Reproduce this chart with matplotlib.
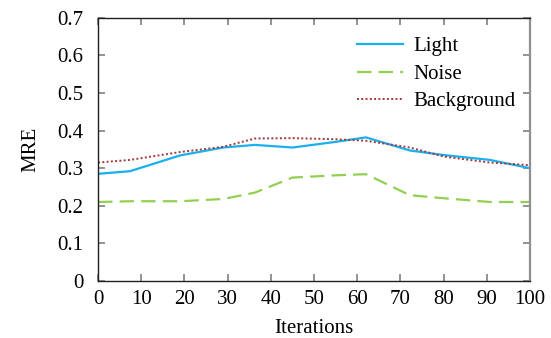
import numpy as np
import matplotlib
matplotlib.use("Agg")
import matplotlib.pyplot as plt

plt.rcParams['font.family'] = ['Liberation Serif', 'DejaVu Serif']

iters = [0, 7.4, 19, 29, 36.3, 45, 55, 62, 72.2, 80, 90.7, 100]
light = [0.285, 0.292, 0.334, 0.355, 0.362, 0.355, 0.370, 0.382, 0.347, 0.335, 0.322, 0.300]
noise = [0.210, 0.212, 0.212, 0.218, 0.235, 0.275, 0.281, 0.284, 0.228, 0.220, 0.210, 0.210]
background = [0.315, 0.322, 0.343, 0.357, 0.379, 0.380, 0.377, 0.373, 0.355, 0.331, 0.315, 0.308]

fig = plt.figure(figsize=(5.51, 3.38), dpi=100)
ax = fig.add_axes([0.178, 0.169, 0.784, 0.778])

ax.plot(iters, light, color='#1ab0ee', lw=1.6, label='Light')
ax.plot(iters, noise, color='#92d050', lw=1.6, ls=(0, (6.5, 3.2)), label='Noise')
ax.plot(iters, background, color='#a0393a', lw=1.4, ls=(0, (1, 1.2)), label='Background')

ax.set_xlim(0, 100)
ax.set_ylim(0, 0.7)
ax.set_xticks(np.arange(0, 101, 10))
ax.set_yticks(np.arange(0, 0.71, 0.1))
ax.set_yticklabels(['0', '0.1', '0.2', '0.3', '0.4', '0.5', '0.6', '0.7'])
ax.tick_params(direction='in', top=True, right=True, length=5, width=1.2,
               color='#808080', labelsize=15)
ax.tick_params(axis='x', pad=6.5)
ax.tick_params(axis='y', pad=10.5)
for s in ['left', 'bottom', 'top']:
    ax.spines[s].set_color('#202020')
    ax.spines[s].set_linewidth(1.0)
ax.spines['right'].set_color('#909090')
ax.spines['right'].set_linewidth(1.6)

ax.set_xlabel('Iterations', fontsize=15, labelpad=7)
ax.set_ylabel('MRE', fontsize=15, labelpad=12)

ax.legend(loc='upper right', frameon=False, fontsize=15, handlelength=2.2,
          handletextpad=0.5, labelspacing=0.38, borderaxespad=0,
          bbox_to_anchor=(0.985, 0.96))

fig.savefig('out.png', dpi=100)
